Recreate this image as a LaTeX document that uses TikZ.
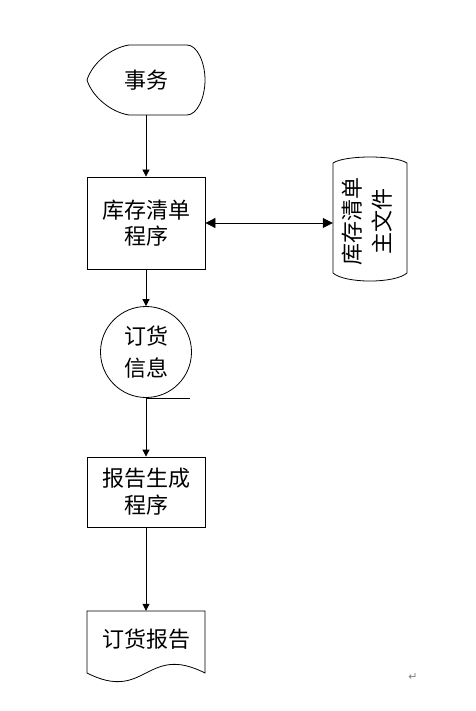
\documentclass[tikz,border=0pt]{standalone}
\usepackage{fontspec}
\newfontfamily\cjk{Noto Sans CJK SC}
\newfontfamily\dejavu{DejaVu Sans}
\usetikzlibrary{arrows.meta,calc}
\tikzset{
  lbl/.style={font=\cjk\fontsize{22}{26}\selectfont, align=center, inner sep=0pt},
  procbox/.style={lbl, draw, line width=0.8pt, minimum width=118pt, minimum height=92pt},
  shapeline/.style={line width=0.8pt},
  flow/.style={line width=0.8pt, -{Triangle[length=7pt,width=7pt]}},
  bigtip/.style={Triangle[length=10pt,width=10pt]}
}
\begin{document}
\begin{tikzpicture}[x=1pt,y=1pt]
\useasboundingbox (0,0) rectangle (475,-711);
% display: 事务
\node[lbl, minimum width=118pt, minimum height=70pt] (disp) at (146,-80) {事务};
\draw[shapeline] (129,-45) -- (187,-45) .. controls (197,-45) and (205,-62) .. (205,-80)
  .. controls (205,-98) and (197,-115) .. (187,-115) -- (129,-115)
  .. controls (110,-112) and (92,-96) .. (87,-80)
  .. controls (92,-64) and (110,-48) .. (129,-45) -- cycle;
% process 1
\node[procbox] (inv) at (146,-223) {库存清单\\程序};
% storage drum
\node[inner sep=0pt, minimum width=74pt, minimum height=124pt] (file) at (370,-219) {};
\draw[shapeline] (333,-163) .. controls (345,-155) and (395,-155) .. (407,-163) -- (407,-273)
  .. controls (395,-283.7) and (345,-283.7) .. (333,-273) -- cycle;
\node[lbl, rotate=90, font=\cjk\fontsize{22}{30}\selectfont] (filetxt) at (367,-221) {库存清单\\主文件};
% tape: 订货信息
\node[draw, circle, line width=0.8pt, minimum size=91pt, inner sep=0pt, align=center,
  font=\cjk\fontsize{22}{32}\selectfont] (ord) at (146,-352) {订货\\信息};
\coordinate (tapeend) at ($(ord.south)+(44,0)$);
% process 2
\node[procbox, minimum height=70pt, font=\cjk\fontsize{22}{27}\selectfont] (gen) at (146,-492) {报告生成\\程序};
% document
\node[lbl, minimum width=118pt, minimum height=56pt] (rep) at (146,-639) {订货报告};
\draw[shapeline] (87,-611) -- (205,-611) -- (205,-673)
  .. controls (146,-643) and (146,-703) .. (87,-673) -- cycle;
% connectors
\draw[flow] (disp.south) -- (inv.north);
\draw[line width=0.8pt, {Triangle[length=10pt,width=10pt]}-{Triangle[length=10pt,width=10pt]}] (inv.east) -- (inv.east -| file.west);
\draw[flow] (inv.south) -- (ord.north);
\draw[shapeline] (ord.south) -- (tapeend);
\draw[flow] (ord.south) -- (gen.north);
\draw[flow] (gen.south) -- (rep.north);
% paragraph mark
\node[font=\dejavu\fontsize{11}{11}\selectfont, text=gray, inner sep=0pt] (ret) at (413,-677) {↵};
\end{tikzpicture}
\end{document}
